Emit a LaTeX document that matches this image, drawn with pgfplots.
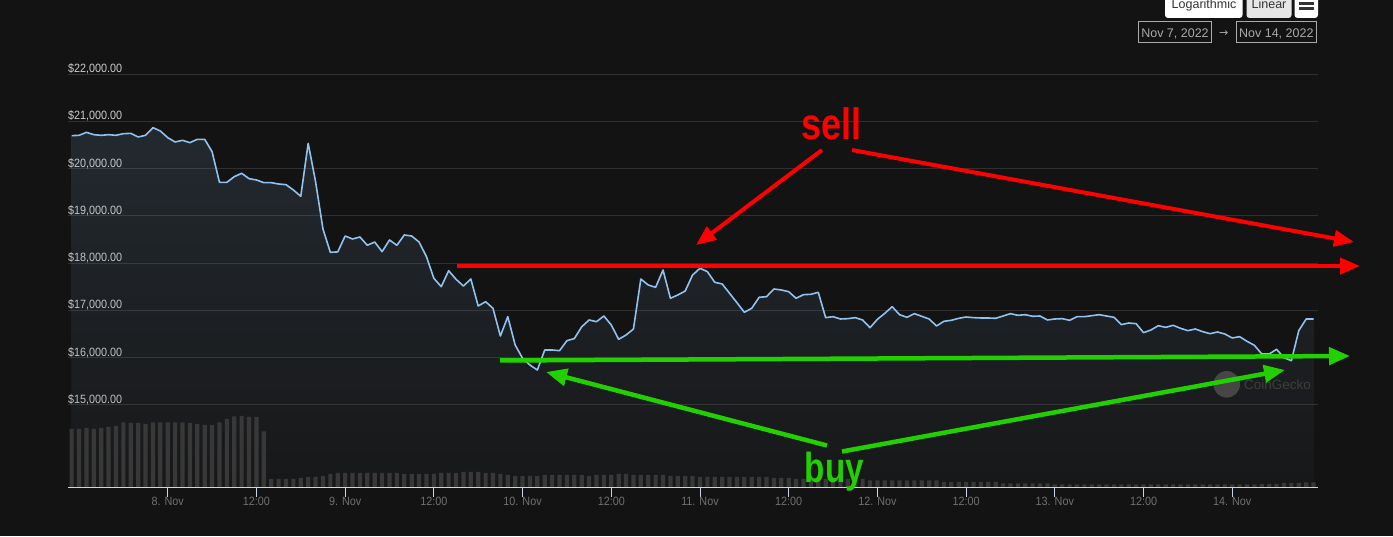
\documentclass[border=0pt]{standalone}
\usepackage{pgfplots}
\pgfplotsset{compat=1.18}
\usepackage{pgfplotstable}
\usepackage{fontspec}
\usetikzlibrary{arrows.meta}
\setmainfont{Liberation Sans}
\newfontfamily\tickfont[FakeStretch=0.9]{Liberation Sans}
\newfontfamily\symfont{DejaVu Sans}
\definecolor{bg}{RGB}{19,19,19}
\definecolor{gridc}{RGB}{48,48,48}
\definecolor{linec}{RGB}{144,194,240}
\definecolor{areabot}{RGB}{57,60,70}
\definecolor{barc}{RGB}{56,56,56}
\definecolor{axisc}{RGB}{204,214,235}
\definecolor{xlab}{RGB}{112,112,112}
\definecolor{ylab}{RGB}{204,204,204}
\definecolor{sellred}{RGB}{255,0,0}
\definecolor{buygreen}{RGB}{34,208,0}
\definecolor{uitext}{RGB}{51,51,51}
\definecolor{uibtn}{RGB}{230,230,230}
\definecolor{datec}{RGB}{170,170,170}
\definecolor{cgc}{RGB}{70,70,70}
\definecolor{cgt}{RGB}{62,62,62}

% hours since Nov 7 00:00, price in USD
\pgfplotstableread{
h p
11 20695
12 20702
13 20765
14 20716
15 20702
16 20716
17 20702
18 20737
19 20744
20 20667
21 20702
22 20864
23 20794
24 20653
25 20561
26 20596
27 20547
28 20617
29 20617
30 20356
31 19707
32 19707
33 19827
34 19898
35 19785
36 19757
37 19700
38 19700
39 19672
40 19658
41 19545
42 19411
43 20533
44 19721
45 18720
46 18225
47 18235
48 18571
49 18508
50 18550
51 18375
52 18444
53 18240
54 18487
55 18375
56 18593
57 18571
58 18444
59 18134
60 17676
61 17499
62 17837
63 17655
64 17513
65 17661
66 17090
67 17181
68 17041
69 16455
70 16864
71 16265
72 15983
73 15841
74 15735
75 16159
76 16159
77 16144
78 16356
79 16400
80 16650
81 16794
82 16758
83 16878
84 16688
85 16385
86 16476
87 16603
88 17661
89 17534
90 17485
91 17852
92 17253
93 17323
94 17407
95 17746
96 17888
97 17817
98 17591
99 17556
100 17359
101 17160
102 16957
103 17041
104 17274
105 17287
106 17450
107 17429
108 17393
109 17253
110 17330
111 17337
112 17380
113 16843
114 16864
115 16815
116 16822
117 16843
118 16794
119 16631
120 16808
121 16935
122 17075
123 16906
124 16850
125 16928
126 16872
127 16815
128 16667
129 16766
130 16787
131 16829
132 16857
133 16843
134 16836
135 16836
136 16829
137 16878
138 16928
139 16893
140 16906
141 16872
142 16878
143 16794
144 16815
145 16822
146 16787
147 16864
148 16864
149 16885
150 16906
151 16878
152 16850
153 16695
154 16730
155 16716
156 16526
157 16582
158 16673
159 16638
160 16681
161 16618
162 16568
163 16603
164 16547
165 16504
166 16540
167 16497
168 16413
169 16441
170 16342
171 16258
172 16074
173 16074
174 16173
175 15996
176 15932
177 16568
178 16815
179 16815
}\price

% relative volume (bar height units)
\pgfplotstableread{
h v
11 58
12 58
13 59
14 58
15 59
16 60
17 61
18 64.7
19 64
20 64
21 63
22 64.7
23 64.7
24 64.7
25 64.7
26 64.7
27 64
28 63
29 62
30 62
31 64.7
32 68
33 70.7
34 71
35 70
36 70
37 55.7
38 8
39 8
40 8
41 8
42 9
43 10
44 10
45 11
46 13
47 14
48 14
49 14
50 14
51 14
52 14
53 14
54 14
55 14
56 13
57 13
58 13
59 13
60 13
61 14
62 14
63 14
64 15
65 15
66 15
67 14
68 14
69 13
70 12
71 11
72 11
73 11
74 11
75 12
76 12
77 12
78 12
79 12
80 12
81 11
82 12
83 12
84 12
85 13
86 13
87 12
88 12
89 12
90 12
91 12
92 11
93 11
94 11
95 11
96 10
97 10
98 10
99 10
100 10
101 10
102 10
103 10
104 10
105 10
106 9
107 9
108 9
109 8
110 8
111 8
112 8
113 8
114 8
115 8
116 8
117 8
118 8
119 6.5
120 6.5
121 6.5
122 6.5
123 6.5
124 6.5
125 6.5
126 6.5
127 6.5
128 6.5
129 5
130 5
131 5
132 5
133 5
134 5
135 5
136 5
137 3.5
138 3.5
139 3.5
140 3.5
141 3.5
142 3.5
143 3.5
144 2.5
145 2.5
146 2.5
147 2.5
148 2.5
149 2.5
150 2.5
151 2.5
152 2.5
153 2.5
154 2.5
155 2.5
156 2.5
157 2.5
158 2.5
159 2.5
160 2.5
161 2.5
162 2.5
163 2.5
164 2.5
165 2.5
166 2.5
167 2.5
168 2.5
169 2.5
170 2.5
171 2.5
172 3
173 3
174 3
175 4
176 4
177 4
178 4.5
179 4.5
}\volume

\begin{document}
\begin{tikzpicture}[x=1pt,y=1pt]
\fill[bg] (0,0) rectangle (1393,536);
\useasboundingbox (0,0) rectangle (1393,536);

\begin{axis}[at={(68pt,49pt)}, anchor=south west, scale only axis,
  width=1250pt, height=413pt,
  xmin=10.51, xmax=179.6, ymin=13259, ymax=22000,
  scaled y ticks=false, scaled x ticks=false,
  axis x line*=bottom, axis y line*=left,
  x axis line style={draw=axisc, line width=0.8pt, -},
  y axis line style={draw=none, -},
  xtick={24,36,...,168},
  xticklabels={8. Nov,12:00,9. Nov,12:00,10. Nov,12:00,11. Nov,12:00,12. Nov,12:00,13. Nov,12:00,14. Nov},
  ytick={15000,16000,...,22000},
  yticklabels={{\$15,000.00},{\$16,000.00},{\$17,000.00},{\$18,000.00},{\$19,000.00},{\$20,000.00},{\$21,000.00},{\$22,000.00}},
  ymajorgrids, grid style={draw=gridc, line width=0.8pt},
  tick align=outside, major tick length=10pt,
  xtick style={draw=axisc, line width=0.8pt},
  ytick style={draw=none},
  xticklabel style={font=\tickfont\fontsize{12}{14}\selectfont, text=xlab, anchor=base, inner sep=0pt, yshift=-9pt},
  yticklabel style={font=\tickfont\fontsize{12}{14}\selectfont, text=ylab, anchor=base west, inner sep=0pt, xshift=10pt, yshift=1.3pt},
]
\addplot[draw=none, top color=linec, bottom color=areabot, fill opacity=0.13]
  table[x=h,y=p]{\price} -- (axis cs:179,13259) -- (axis cs:11,13259) -- cycle;
\addplot[color=linec, line width=1.6pt, line join=round, mark=none] table[x=h,y=p]{\price};
\end{axis}

\begin{axis}[at={(68pt,49pt)}, anchor=south west, scale only axis,
  width=1250pt, height=413pt,
  xmin=10.51, xmax=179.6, ymin=0, ymax=413, hide axis, ybar, bar width=4.2pt]
\addplot[fill=barc, draw=none] table[x=h,y=v]{\volume};
\end{axis}

% CoinGecko watermark
\fill[cgc] (1226.7,151.7) circle (13.3);
\node[anchor=base west, inner sep=0, text=cgt] at (1244,146) {\fontsize{13.5}{14}\selectfont CoinGecko};

% annotations: sell
\begin{scope}[sellred, line width=4pt]
\draw[-{Triangle[length=20pt,width=16pt]}] (457,270) -- (1360,270);
\draw[-{Triangle[length=20pt,width=16pt]}] (822,386) -- (696,291);
\draw[-{Triangle[length=20pt,width=16pt]}] (852,386) -- (1354,294);
\end{scope}
\node[anchor=base, inner sep=0, text=sellred] at (831.7,396.7) {\scalebox{0.9}[1.1]{\fontsize{40}{40}\selectfont\bfseries sell}};

% annotations: buy
\begin{scope}[buygreen, line width=4.5pt]
\draw[-{Triangle[length=21pt,width=17pt]}] (500,175.5) -- (1350,180);
\draw[-{Triangle[length=21pt,width=17pt]}] (827,90.5) -- (546,164);
\draw[-{Triangle[length=21pt,width=17pt]}] (842,84.5) -- (1285,166);
\end{scope}
\node[anchor=base, inner sep=0, text=buygreen] at (834.5,53) {\scalebox{0.83}[1.05]{\fontsize{40}{40}\selectfont\bfseries buy}};

% range selector buttons
\fill[white, rounded corners=3pt] (1165,518) rectangle (1242.5,545);
\fill[uibtn, rounded corners=3pt] (1246.5,518) rectangle (1291.5,545);
\fill[white, rounded corners=3pt] (1294.5,518) rectangle (1318,545);
\node[anchor=base, inner sep=0, text=uitext] at (1204,527) {\fontsize{12.5}{14}\selectfont Logarithmic};
\node[anchor=base, inner sep=0, text=uitext] at (1269,527) {\fontsize{12.5}{14}\selectfont Linear};
\fill[uitext] (1298.5,531) rectangle (1314,533.5);
\fill[uitext] (1298.5,526) rectangle (1314,528.5);
% date inputs
\draw[datec, line width=0.8pt] (1138.3,493.7) rectangle (1211.7,514.7);
\draw[datec, line width=0.8pt] (1236,493.7) rectangle (1316.7,514.7);
\node[anchor=base, inner sep=0, text=datec] at (1175,498.3) {\fontsize{12.5}{14}\selectfont Nov 7, 2022};
\node[anchor=base, inner sep=0, text=datec] at (1276.3,498.3) {\fontsize{12.5}{14}\selectfont Nov 14, 2022};
\node[anchor=base, inner sep=0, text=datec] at (1223.8,499.5) {\symfont\fontsize{11}{12}\selectfont →};
\end{tikzpicture}
\end{document}
